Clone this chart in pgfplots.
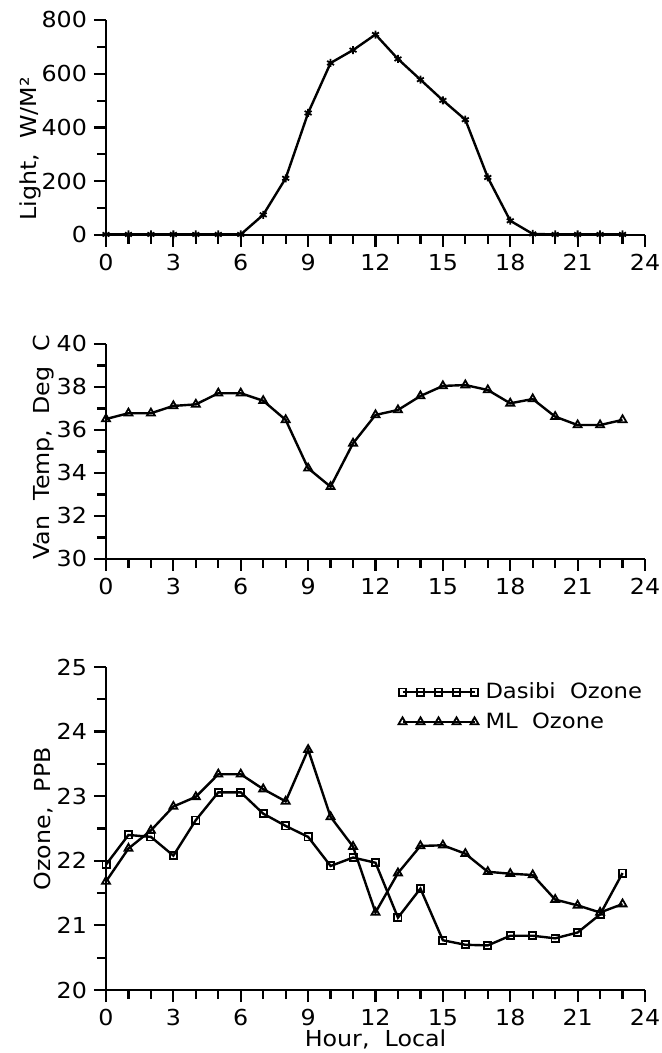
\documentclass[border=0pt]{standalone}
\usepackage{fontspec}
\setmainfont{DejaVu Sans}[FakeStretch=1.08]
\usepackage{pgfplots}
\pgfplotsset{compat=1.18}

\pgfplotsset{
 myaxis/.style={
  scale only axis, width=269.5pt,
  xmin=0,xmax=24, xtick={0,3,...,24}, minor x tick num=2,
  axis lines=left, axis line style={line width=1.2pt, -},
  tick align=outside, major tick length=6pt, minor tick length=4.5pt,
  every tick/.style={line width=1.1pt, black},
  every minor tick/.style={line width=1.1pt, black},
  tick label style={font=\fontsize{11}{13}\selectfont},
  /pgf/number format/assume math mode=true,
  ylabel style={font=\fontsize{11}{13}\selectfont, anchor=center},
  xlabel style={font=\fontsize{11}{13}\selectfont},
  clip=false,
 },
 myline/.style={black, line width=1.2pt, mark options={solid, line width=0.9pt}},
}

\begin{document}
\begin{tikzpicture}
\useasboundingbox (0,0) rectangle (330.5pt,526.5pt);

% Top: Light
\begin{axis}[myaxis, at={(53pt,409pt)}, anchor=south west, height=107.5pt,
  ymin=0, ymax=800, ytick={0,200,...,800}, minor y tick num=1,
  ylabel={Light,\ \ W/M²},
  ylabel style={at={(axis description cs:-0.14,0.4)}}]
\addplot[myline, mark=asterisk, mark size=2pt] coordinates {
(0,2)(1,2)(2,2)(3,2)(4,2)(5,2)(6,2)(7,75)(8,211)(9,454)(10,640)(11,688)
(12,746)(13,655)(14,578)(15,501)(16,429)(17,214)(18,53)(19,4)(20,2)(21,2)(22,2)(23,2)};
\end{axis}

% Middle: Van Temp
\begin{axis}[myaxis, at={(53pt,247pt)}, anchor=south west, height=107.5pt,
  ymin=30, ymax=40, ytick={30,32,...,40}, minor y tick num=1,
  ylabel={Van\ \ Temp,\ \ Deg\ \ C},
  ylabel style={at={(axis description cs:-0.115,0.52)}}]
\addplot[myline, mark=triangle, mark size=2.3pt] coordinates {
(0,36.51)(1,36.78)(2,36.78)(3,37.12)(4,37.19)(5,37.71)(6,37.71)(7,37.36)
(8,36.47)(9,34.22)(10,33.36)(11,35.38)(12,36.70)(13,36.93)(14,37.58)(15,38.05)
(16,38.09)(17,37.86)(18,37.24)(19,37.44)(20,36.62)(21,36.23)(22,36.23)(23,36.47)};
\end{axis}

% Bottom: Ozone
\begin{axis}[myaxis, at={(53pt,31.5pt)}, anchor=south west, height=161.5pt,
  ymin=20, ymax=25, ytick={20,21,...,25}, minor y tick num=1,
  ylabel={Ozone,\ \ PPB},
  ylabel style={at={(axis description cs:-0.115,0.53)}},
  xlabel={Hour,\ \ Local},
  xlabel style={at={(axis description cs:0.5,-0.122)}, anchor=north, inner sep=0pt},
  legend image code/.code={\draw[#1, mark repeat=1] plot coordinates {(0pt,0pt)(9pt,0pt)(18pt,0pt)(27pt,0pt)(36pt,0pt)};},
  legend style={draw=none, fill=none, at={(0.542,0.965)}, anchor=north west,
    font=\fontsize{10.5}{12}\selectfont, row sep=1.5pt, inner sep=0pt,
    nodes={inner xsep=3.5pt}},
  legend cell align=left]
\addplot[myline, mark=square, mark size=1.8pt] coordinates {
(0,21.94)(1,22.40)(2,22.37)(3,22.08)(4,22.63)(5,23.06)(6,23.06)(7,22.73)
(8,22.54)(9,22.37)(10,21.92)(11,22.05)(12,21.97)(13,21.12)(14,21.57)(15,20.77)
(16,20.70)(17,20.69)(18,20.84)(19,20.84)(20,20.80)(21,20.89)(22,21.17)(23,21.81)};
\addlegendentry{Dasibi\ \ Ozone}
\addplot[myline, mark=triangle, mark size=2.3pt] coordinates {
(0,21.68)(1,22.19)(2,22.47)(3,22.84)(4,22.99)(5,23.34)(6,23.34)(7,23.11)
(8,22.92)(9,23.72)(10,22.68)(11,22.22)(12,21.20)(13,21.81)(14,22.23)(15,22.24)
(16,22.11)(17,21.83)(18,21.80)(19,21.78)(20,21.40)(21,21.31)(22,21.20)(23,21.33)};
\addlegendentry{ML\ \ Ozone}
\end{axis}
\end{tikzpicture}
\end{document}
